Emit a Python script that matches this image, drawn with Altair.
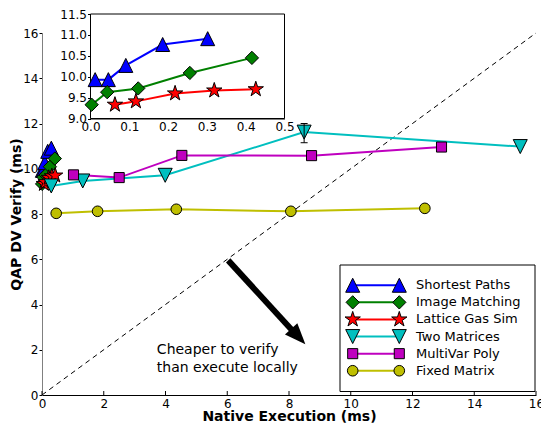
import altair as alt
import pandas as pd

# ---------------- data ----------------
NAMES = ["Shortest Paths", "Image Matching", "Lattice Gas Sim",
         "Two Matrices", "MultiVar Poly", "Fixed Matrix"]

sp_x = [0.012, 0.046, 0.091, 0.186, 0.302]
sp_y = [9.93, 9.93, 10.27, 10.77, 10.91]
im_x = [0.003, 0.043, 0.123, 0.256, 0.416]
im_y = [9.33, 9.63, 9.72, 10.09, 10.45]
lg_x = [0.063, 0.117, 0.218, 0.319, 0.426]
lg_y = [9.33, 9.41, 9.60, 9.67, 9.70]
tm_x = [0.30, 1.32, 3.99, 8.49, 15.49]
tm_y = [9.24, 9.46, 9.71, 11.62, 10.98]
mv_x = [1.02, 2.50, 4.53, 8.73, 12.94]
mv_y = [9.73, 9.61, 10.59, 10.58, 10.96]
fm_x = [0.46, 1.80, 4.35, 8.06, 12.40]
fm_y = [8.03, 8.12, 8.21, 8.12, 8.25]

err_x = [8.49]
err_lo = [11.15]
err_hi = [12.00]

MAIN_TICKS = [0, 2, 4, 6, 8, 10, 12, 14, 16]
INSET_XTICKS = [0.0, 0.1, 0.2, 0.3, 0.4, 0.5]
INSET_YTICKS = [9.0, 9.5, 10.0, 10.5, 11.0, 11.5]
INSET_XLIM = [0.0, 0.5]
INSET_YLIM = [9.0, 11.5]

diag_x = [0, 16]
diag_y = [0, 16]

arrow_start = [6.03, 5.95]
arrow_shaft_end = [8.13, 2.82]
arrow_head = [8.30, 2.58]

note_x = [3.72, 3.72]
note_y = [1.98, 1.19]
note_text = ["Cheaper to verify", "than execute locally"]

# ---------------- styles ----------------
COLORS = ["#0000ff", "#008000", "#ff0000", "#00bfbf", "#bf00bf", "#bfbf00"]
TRI_UP = "M0,-1L1,1L-1,1Z"
TRI_DN = "M0,1L1,-1L-1,-1Z"
DIAMOND = "M0,-0.95L0.95,0L0,0.95L-0.95,0Z"
SQUARE = "M-0.72,-0.72L0.72,-0.72L0.72,0.72L-0.72,0.72Z"
CIRCLE = "M-0.76,0A0.76,0.76,0,1,1,0.76,0A0.76,0.76,0,1,1,-0.76,0Z"
STAR = ("M0,-1.15L0.258,-0.355L1.094,-0.355L0.417,0.136L0.676,0.93L0,0.439"
        "L-0.676,0.93L-0.417,0.136L-1.094,-0.355L-0.258,-0.355Z")
SHAPES = [TRI_UP, DIAMOND, STAR, TRI_DN, SQUARE, CIRCLE]
HEAD = "M0,-1L0.8,1L-0.8,1Z"
FONT = "DejaVu Sans"

color_scale = alt.Scale(domain=NAMES, range=COLORS)
shape_scale = alt.Scale(domain=NAMES, range=SHAPES)

# ---------------- tables ----------------
series_xy = [(sp_x, sp_y), (im_x, im_y), (lg_x, lg_y),
             (tm_x, tm_y), (mv_x, mv_y), (fm_x, fm_y)]
rows = []
for name, (xs, ys) in zip(NAMES, series_xy):
    for i, (xv, yv) in enumerate(zip(xs, ys)):
        rows.append({"series": name, "x": xv, "y": yv, "idx": i})
main_df = pd.DataFrame(rows)
inset_df = main_df[main_df["series"].isin(NAMES[:3])].reset_index(drop=True)

W, H = 494, 362

X_MAIN = alt.X("x:Q", scale=alt.Scale(domain=[0, 16], nice=False),
               axis=alt.Axis(values=MAIN_TICKS, title="Native Execution (ms)",
                             ticks=False, tickSize=0, labelPadding=3,
                             domainColor="black", titleY=21,
                             titleBaseline="middle"))
Y_MAIN = alt.Y("y:Q", scale=alt.Scale(domain=[0, 16], nice=False),
               axis=alt.Axis(values=MAIN_TICKS, title="QAP DV Verify (ms)",
                             tickSize=3, labelPadding=1, domainColor="#808080",
                             tickColor="black", titleX=-26,
                             titleBaseline="middle"))


def lines_points(df, X, Y):
    line = alt.Chart(df).mark_line(strokeWidth=2).encode(
        x=X, y=Y,
        color=alt.Color("series:N", scale=color_scale, legend=None),
        order="idx:Q")
    pts = alt.Chart(df).mark_point(filled=True, stroke="black", strokeWidth=1,
                                   opacity=1, size=196).encode(
        x=X, y=Y,
        fill=alt.Fill("series:N", scale=color_scale, legend=None),
        shape=alt.Shape("series:N", scale=shape_scale, legend=None))
    return line, pts


diag = alt.Chart(pd.DataFrame({"x": diag_x, "y": diag_y})).mark_line(
    color="black", strokeWidth=1, strokeDash=[5, 4]).encode(x=X_MAIN, y=Y_MAIN)

xticks_in = alt.Chart(pd.DataFrame({"x": MAIN_TICKS})).mark_rule(
    color="black", strokeWidth=1).encode(
    x=X_MAIN, y=alt.value(H), y2=alt.value(H - 4))

shaft = alt.Chart(pd.DataFrame({
    "x": [arrow_start[0]], "y": [arrow_start[1]],
    "x2": [arrow_shaft_end[0]], "y2": [arrow_shaft_end[1]]})).mark_rule(
    color="black", strokeWidth=6).encode(
    x=X_MAIN, y=Y_MAIN, x2="x2:Q", y2="y2:Q")

head = alt.Chart(pd.DataFrame({"x": [arrow_head[0]], "y": [arrow_head[1]]})).mark_point(
    shape=HEAD, size=441, filled=True, color="black", opacity=1,
    angle=137.4).encode(x=X_MAIN, y=Y_MAIN)

note = alt.Chart(pd.DataFrame({"x": note_x, "y": note_y, "t": note_text})).mark_text(
    align="left", baseline="middle", fontSize=14, font=FONT, color="black").encode(
    x=X_MAIN, y=Y_MAIN, text="t:N")

m_line, m_pts = lines_points(main_df, X_MAIN, Y_MAIN)

err_df = pd.DataFrame({"x": err_x, "y": err_lo, "y2": err_hi})
err_rule = alt.Chart(err_df).mark_rule(color="black", strokeWidth=1).encode(
    x=X_MAIN, y=Y_MAIN, y2="y2:Q")
cap_df = pd.DataFrame({"x": err_x * 2, "y": err_lo + err_hi})
err_caps = alt.Chart(cap_df).mark_point(shape="stroke", size=49, stroke="black",
                                        strokeWidth=1, opacity=1).encode(
    x=X_MAIN, y=Y_MAIN)

main_layer = alt.layer(diag, xticks_in, shaft, head, note, m_line, m_pts,
                       err_rule, err_caps)

# ---------------- inset ----------------
IX0, IX1 = 48.5, 242.5
IYB, IYT = 85.5, -19.0
X_IN = alt.X("x:Q", scale=alt.Scale(domain=INSET_XLIM, range=[IX0, IX1], nice=False),
             axis=alt.Axis(orient="bottom", offset=IYB - H, values=INSET_XTICKS,
                           format=".1f", title=None, ticks=False, tickSize=0,
                           labelPadding=3, domainColor="black"))
Y_IN = alt.Y("y:Q", scale=alt.Scale(domain=INSET_YLIM, range=[IYB, IYT], nice=False),
             axis=alt.Axis(orient="left", offset=-IX0, values=INSET_YTICKS,
                           format=".1f", title=None, tickSize=3, labelPadding=1,
                           domainColor="black", tickColor="black"))

frame_df = pd.DataFrame({"x": [INSET_XLIM[0]], "x2": [INSET_XLIM[1]],
                         "y": [INSET_YLIM[0]], "y2": [INSET_YLIM[1]]})
frame = alt.Chart(frame_df).mark_rect(fill="white", stroke="black", strokeWidth=1).encode(
    x=X_IN, x2="x2:Q", y=Y_IN, y2="y2:Q")
i_line, i_pts = lines_points(inset_df, X_IN, Y_IN)
inset_layer = alt.layer(frame, i_line, i_pts)

# ---------------- legend (drawn) ----------------
leg_df = pd.DataFrame({"series": NAMES})
Y_LEG = alt.Y("series:N", sort=NAMES,
              scale=alt.Scale(domain=NAMES, range=[243.7, 346.3], padding=0),
              axis=None)
leg_box = alt.Chart(pd.DataFrame({"a": [0]})).mark_rect(
    fill="white", stroke="black", strokeWidth=1).encode(
    x=alt.value(298), x2=alt.value(493), y=alt.value(232), y2=alt.value(358.5))
leg_line = alt.Chart(leg_df).mark_rule(strokeWidth=2).encode(
    x=alt.value(310.7), x2=alt.value(357.3), y=Y_LEG,
    color=alt.Color("series:N", scale=color_scale, legend=None))


def leg_pts(px):
    return alt.Chart(leg_df).mark_point(filled=True, stroke="black", strokeWidth=1,
                                        opacity=1, size=196).encode(
        x=alt.value(px), y=Y_LEG,
        fill=alt.Fill("series:N", scale=color_scale, legend=None),
        shape=alt.Shape("series:N", scale=shape_scale, legend=None))


leg_text = alt.Chart(leg_df).mark_text(align="left", baseline="middle", fontSize=13,
                                       font=FONT, color="black").encode(
    x=alt.value(374), y=Y_LEG, text="series:N")
legend_layer = alt.layer(leg_box, leg_line, leg_pts(310.7), leg_pts(357.3), leg_text)

chart = alt.layer(main_layer, inset_layer, legend_layer).resolve_scale(
    x="independent", y="independent"
).properties(
    width=W, height=H,
    padding={"left": 34, "top": 25, "right": 5, "bottom": 28},
    autosize=alt.AutoSizeParams(type="none"),
).configure_view(stroke=None).configure_axis(
    grid=False, labelFont=FONT, titleFont=FONT, labelFontSize=12,
    titleFontSize=14, titleFontWeight="bold", labelColor="black",
    titleColor="black", labelFlush=False, labelOverlap=False,
)

chart.save("out.html", embed_options={"renderer": "svg", "actions": False})
